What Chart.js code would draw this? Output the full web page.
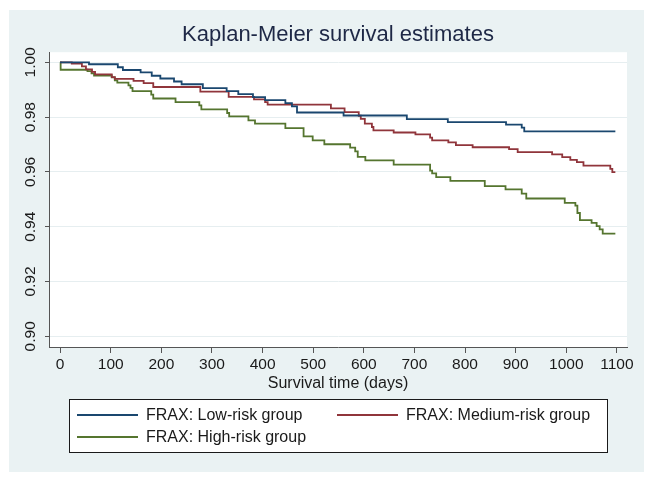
<!DOCTYPE html>
<html>
<head>
<meta charset="utf-8">
<title>Kaplan-Meier survival estimates</title>
<script src="https://cdn.jsdelivr.net/npm/chart.js@4.4.0/dist/chart.umd.min.js"></script>
<style>
    html, body { margin: 0; padding: 0; background: #ffffff; }
    #wrap { width: 654px; height: 481px; }
</style>
</head>
<body>
<div id="wrap"><canvas id="kmChart" width="654" height="481"></canvas></div>
<script>
// Kaplan-Meier estimates (time in days, survival probability)
const lowRiskDays = [0, 57, 114, 124, 159, 181, 198, 225, 240, 282, 329, 352, 381, 405, 445, 458, 468, 560, 685, 766, 881, 912, 917, 1097];
const lowRiskSurv = [1.000, 0.9993, 0.9982, 0.9972, 0.9963, 0.9951, 0.9941, 0.9930, 0.9920, 0.9906, 0.9895, 0.9884, 0.9873, 0.9862, 0.9851, 0.9839, 0.9817, 0.9806, 0.9793, 0.9782, 0.9773, 0.9762, 0.9748, 0.9748];

const mediumRiskDays = [0, 23, 43, 51, 63, 69, 102, 108, 145, 165, 184, 277, 333, 383, 405, 410, 535, 562, 590, 594, 602, 616, 619, 659, 702, 731, 735, 767, 782, 815, 887, 904, 972, 992, 1008, 1021, 1034, 1087, 1091, 1097];
const mediumRiskSurv = [1.000, 0.9995, 0.9985, 0.9974, 0.9965, 0.9956, 0.9946, 0.9940, 0.9932, 0.9924, 0.9910, 0.9893, 0.9874, 0.9865, 0.9855, 0.9846, 0.9832, 0.9818, 0.9805, 0.9794, 0.9776, 0.9764, 0.9752, 0.9744, 0.9737, 0.9725, 0.9715, 0.9708, 0.9698, 0.9690, 0.9683, 0.9672, 0.9664, 0.9654, 0.9644, 0.9636, 0.9623, 0.9611, 0.9599, 0.9599];

const highRiskDays = [0, 1, 54, 62, 67, 102, 108, 113, 135, 139, 143, 180, 184, 228, 275, 279, 330, 334, 372, 385, 445, 481, 499, 522, 573, 583, 588, 603, 659, 731, 735, 743, 771, 839, 880, 912, 921, 997, 1018, 1022, 1027, 1050, 1060, 1066, 1072, 1097];
const highRiskSurv = [1.000, 0.9973, 0.9968, 0.9960, 0.9952, 0.9945, 0.9934, 0.9926, 0.9916, 0.9907, 0.9895, 0.9882, 0.9868, 0.9855, 0.9843, 0.9828, 0.9815, 0.9803, 0.9788, 0.9776, 0.9760, 0.9730, 0.9715, 0.9701, 0.9689, 0.9675, 0.9655, 0.9642, 0.9627, 0.9605, 0.9595, 0.9581, 0.9567, 0.9548, 0.9536, 0.9521, 0.9503, 0.9487, 0.9477, 0.9450, 0.9424, 0.9414, 0.9402, 0.9390, 0.9375, 0.9375];

const groupLabels = ['FRAX: Low-risk group', 'FRAX: Medium-risk group', 'FRAX: High-risk group'];
const xTickValues = [0, 100, 200, 300, 400, 500, 600, 700, 800, 900, 1000, 1100];
const yTickValues = [0.90, 0.92, 0.94, 0.96, 0.98, 1.00];

const FONT = "'Liberation Sans', Arial, sans-serif";
const groupColors = ['#1a476f', '#90353b', '#55752f'];
const regionColor = '#eaf2f3';
const axisColor = '#555555';

// pair up times and estimates for the line datasets
function toPoints(days, surv) {
    return days.map((d, i) => ({ x: d, y: surv[i] }));
}

// Stata-like graph region + white plot region
const backgroundPlugin = {
    id: 'graphRegion',
    beforeDraw(chart) {
        const { ctx, chartArea } = chart;
        ctx.save();
        ctx.fillStyle = '#ffffff';
        ctx.fillRect(0, 0, chart.width, chart.height);
        ctx.fillStyle = regionColor;
        ctx.fillRect(9, 10, 635, 462);
        ctx.fillStyle = '#ffffff';
        ctx.fillRect(chartArea.left, chartArea.top, chartArea.right - chartArea.left, chartArea.bottom - chartArea.top);
        ctx.restore();
    }
};

// y tick labels are drawn rotated (Chart.js only rotates x labels)
const rotatedYLabels = {
    id: 'rotatedYLabels',
    afterDraw(chart) {
        const { ctx } = chart;
        const yScale = chart.scales.y;
        ctx.save();
        ctx.fillStyle = '#1a1a1a';
        ctx.font = '15.5px ' + FONT;
        ctx.textAlign = 'center';
        ctx.textBaseline = 'middle';
        yTickValues.forEach(v => {
            const py = yScale.getPixelForValue(v);
            ctx.save();
            ctx.translate(31, py);
            ctx.rotate(-Math.PI / 2);
            ctx.fillText(v.toFixed(2), 0, 0);
            ctx.restore();
        });
        ctx.restore();
    }
};

// boxed two-column legend under the axis title
const boxedLegend = {
    id: 'boxedLegend',
    afterDraw(chart) {
        const { ctx } = chart;
        const box = { left: 69, top: 399, right: 607, bottom: 452 };
        const slots = [
            { x: 77, y: 415 },
            { x: 337, y: 415 },
            { x: 77, y: 437 }
        ];
        ctx.save();
        ctx.fillStyle = '#ffffff';
        ctx.fillRect(box.left, box.top, box.right - box.left, box.bottom - box.top);
        ctx.strokeStyle = '#1a1a1a';
        ctx.lineWidth = 1;
        ctx.strokeRect(box.left + 0.5, box.top + 0.5, box.right - box.left, box.bottom - box.top);

        ctx.font = '16px ' + FONT;
        ctx.textBaseline = 'middle';
        ctx.textAlign = 'left';
        chart.data.datasets.forEach((ds, i) => {
            const s = slots[i];
            ctx.strokeStyle = ds.borderColor;
            ctx.lineWidth = 2;
            ctx.beginPath();
            ctx.moveTo(s.x, s.y);
            ctx.lineTo(s.x + 61, s.y);
            ctx.stroke();
            ctx.fillStyle = '#1a1a1a';
            ctx.fillText(ds.label, s.x + 69, s.y + 1);
        });
        ctx.restore();
    }
};

const datasets = [
    { label: groupLabels[0], data: toPoints(lowRiskDays, lowRiskSurv), borderColor: groupColors[0] },
    { label: groupLabels[1], data: toPoints(mediumRiskDays, mediumRiskSurv), borderColor: groupColors[1] },
    { label: groupLabels[2], data: toPoints(highRiskDays, highRiskSurv), borderColor: groupColors[2] }
].map(ds => Object.assign(ds, {
    stepped: 'before',
    borderWidth: 1.8,
    pointRadius: 0,
    fill: false
}));

new Chart(document.getElementById('kmChart'), {
    type: 'line',
    data: { datasets: datasets },
    options: {
        responsive: false,
        animation: false,
        devicePixelRatio: 1,
        layout: { padding: { left: 9, right: 27, top: 10, bottom: 89 } },
        plugins: {
            legend: { display: false },
            tooltip: { enabled: false },
            title: {
                display: true,
                fullSize: false,
                text: 'Kaplan-Meier survival estimates',
                color: '#1e2846',
                font: { family: FONT, size: 22, weight: 'normal', lineHeight: 1.1 },
                padding: { top: 13, bottom: 5 }
            }
        },
        scales: {
            x: {
                type: 'linear',
                min: -22,
                max: 1120,
                afterBuildTicks: scale => { scale.ticks = xTickValues.map(v => ({ value: v })); },
                afterFit: scale => { scale.height = 45; },
                ticks: {
                    color: '#1a1a1a',
                    font: { family: FONT, size: 15.5 },
                    padding: 2,
                    maxRotation: 0,
                    autoSkip: false,
                    callback: v => String(v)
                },
                grid: {
                    drawOnChartArea: false,
                    color: axisColor,
                    tickColor: axisColor,
                    tickLength: 6
                },
                border: { display: true, color: axisColor, width: 1 },
                title: {
                    display: true,
                    text: 'Survival time (days)',
                    color: '#1a1a1a',
                    font: { family: FONT, size: 16, lineHeight: 1.0 },
                    padding: { top: 0, bottom: 0 }
                }
            },
            y: {
                type: 'linear',
                min: 0.8961,
                max: 1.0037,
                afterBuildTicks: scale => { scale.ticks = yTickValues.map(v => ({ value: v })); },
                afterFit: scale => { scale.width = 40; },
                ticks: { display: false },
                grid: {
                    color: '#e6eef0',
                    tickColor: axisColor,
                    tickLength: 4,
                    lineWidth: 1
                },
                border: { display: true, color: axisColor, width: 1 }
            }
        }
    },
    plugins: [backgroundPlugin, rotatedYLabels, boxedLegend]
});
</script>
</body>
</html>
